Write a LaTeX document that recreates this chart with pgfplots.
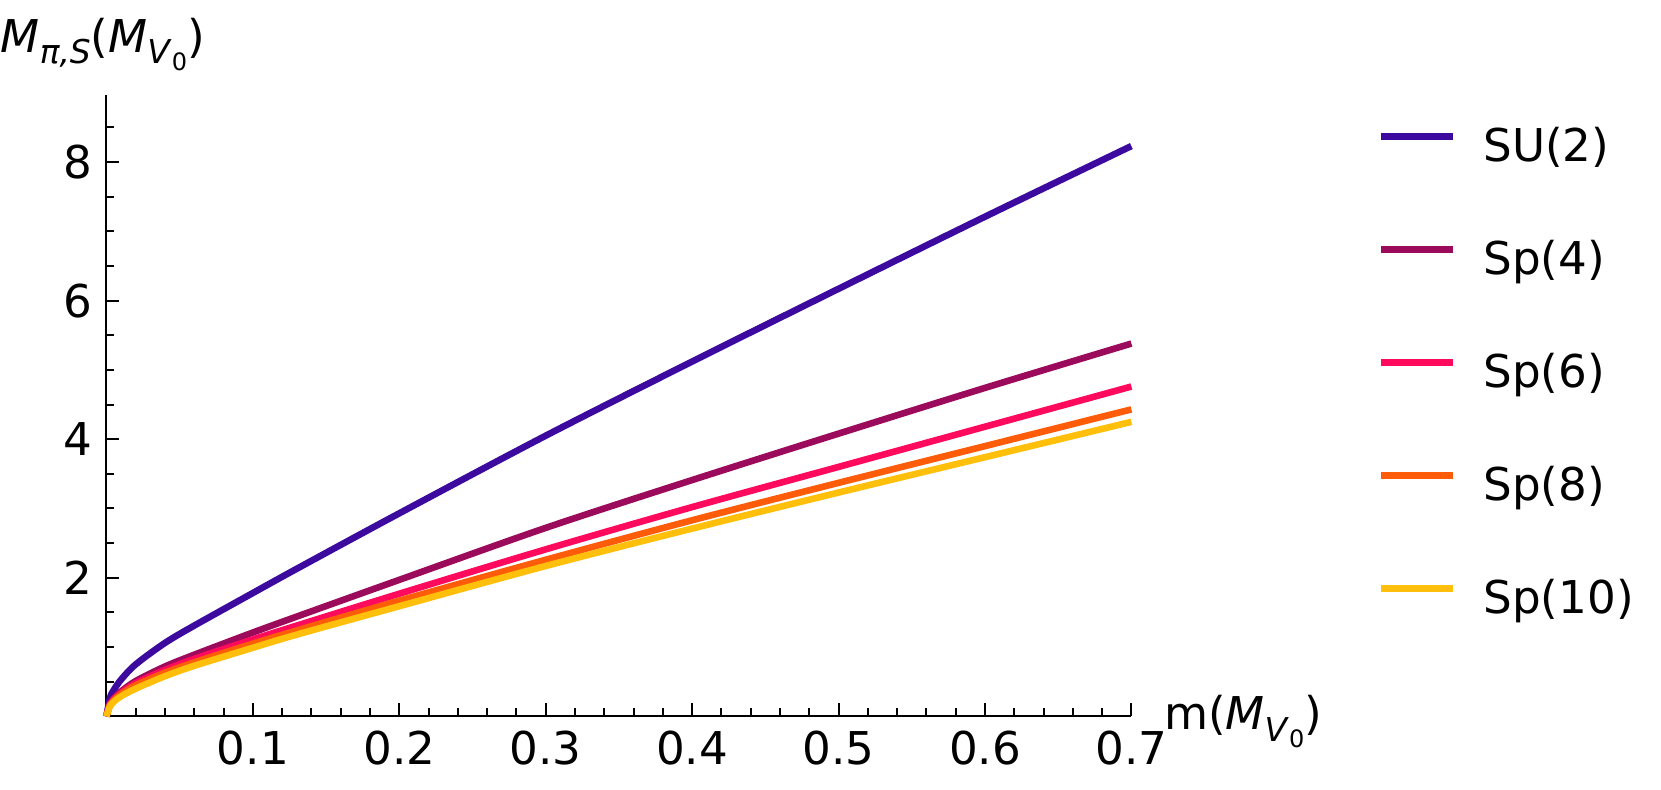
\documentclass[border=0pt]{standalone}
\usepackage{fontspec}
\setmainfont{DejaVu Sans}
\usepackage{pgfplots}
\pgfplotsset{compat=1.18}

\definecolor{cSU}{HTML}{3D0A9F}
\definecolor{cSpfour}{HTML}{9C0A5C}
\definecolor{cSpsix}{HTML}{FF0A5C}
\definecolor{cSpeight}{HTML}{FF5C0A}
\definecolor{cSpten}{HTML}{FFBF0A}

\newcommand{\sub}[1]{\raisebox{-0.45ex}{\fontsize{8.2}{9}\selectfont #1}}
\newcommand{\subsub}[1]{\raisebox{-0.35ex}{\fontsize{6}{7}\selectfont #1}}

\begin{document}
\begin{tikzpicture}
\begin{axis}[
    scale only axis,
    width=256.25pt, height=155.4pt,
    xmin=0, xmax=0.7, ymin=0, ymax=8.97,
    axis lines*=left,
    axis line style={line width=0.5pt},
    tick align=inside,
    major tick length=3.25pt,
    minor tick length=2pt,
    tick style={line width=0.5pt, black},
    xtick={0.1,0.2,0.3,0.4,0.5,0.6,0.7},
    xticklabels={0.1,0.2,0.3,0.4,0.5,0.6,0.7},
    minor xtick={0.02,0.04,0.06,0.08,0.12,0.14,0.16,0.18,0.22,0.24,0.26,0.28,
                 0.32,0.34,0.36,0.38,0.42,0.44,0.46,0.48,0.52,0.54,0.56,0.58,
                 0.62,0.64,0.66,0.68},
    ytick={2,4,6,8},
    minor ytick={0.5,1,1.5,2.5,3,3.5,4.5,5,5.5,6.5,7,7.5,8.5},
    /pgf/number format/assume math mode=true,
    tick label style={font=\fontsize{11.3}{13}\selectfont},
    clip=false,
    legend style={draw=none, fill=none, at={(1.2406,0.947)}, anchor=north west,
        inner sep=0pt, outer sep=0pt, row sep=16.95pt,
        font=\fontsize{11.3}{13}\selectfont,
        nodes={inner sep=0pt, text height=8.5pt, text depth=2.8pt},
        /tikz/every odd column/.append style={column sep=6.75pt}},
    legend cell align=left,
    legend image code/.code={\draw[#1, line width=1.65pt] (0pt,3.45pt) -- (18pt,3.45pt);},
    every axis plot/.append style={line width=1.65pt, smooth, mark=none},
]
% SU(2)
\addplot[cSU] coordinates {
    (0,0) (0.0025,0.27) (0.005,0.38) (0.01,0.53) (0.02,0.75) (0.04,1.06)
    (0.06,1.31) (0.1,1.78) (0.13,2.13) (0.2,2.93) (0.3,4.05) (0.4,5.12)
    (0.5,6.17) (0.6,7.21) (0.7,8.23)
};
\addlegendentry{SU(2)}
% Sp(4)
\addplot[cSpfour] coordinates {
    (0,0) (0.0025,0.19) (0.005,0.26) (0.01,0.36) (0.02,0.51) (0.04,0.72)
    (0.06,0.89) (0.1,1.21) (0.13,1.44) (0.2,1.97) (0.3,2.72) (0.4,3.41)
    (0.5,4.08) (0.6,4.74) (0.7,5.38)
};
\addlegendentry{Sp(4)}
% Sp(6)
\addplot[cSpsix] coordinates {
    (0,0) (0.0025,0.18) (0.005,0.25) (0.01,0.34) (0.02,0.48) (0.04,0.67)
    (0.06,0.83) (0.1,1.11) (0.13,1.31) (0.2,1.77) (0.3,2.41) (0.4,3.02)
    (0.5,3.60) (0.6,4.18) (0.7,4.76)
};
\addlegendentry{Sp(6)}
% Sp(8)
\addplot[cSpeight] coordinates {
    (0,0) (0.0025,0.17) (0.005,0.23) (0.01,0.32) (0.02,0.45) (0.04,0.63)
    (0.06,0.78) (0.1,1.05) (0.13,1.24) (0.2,1.67) (0.3,2.26) (0.4,2.83)
    (0.5,3.37) (0.6,3.90) (0.7,4.43)
};
\addlegendentry{Sp(8)}
% Sp(10)
\addplot[cSpten] coordinates {
    (0,0) (0.0025,0.15) (0.005,0.21) (0.01,0.29) (0.02,0.40) (0.04,0.58)
    (0.06,0.73) (0.1,0.99) (0.13,1.18) (0.2,1.59) (0.3,2.17) (0.4,2.71)
    (0.5,3.23) (0.6,3.74) (0.7,4.25)
};
\addlegendentry{Sp(10)}
\end{axis}
\node[anchor=base west, inner sep=0pt, font=\fontsize{11.3}{13}\selectfont]
    at (-26.6pt,165.9pt)
    {\textit{M}\sub{\textit{π,S}}(\textit{M}\sub{\textit{V}\subsub{0}})};
\node[anchor=base west, inner sep=0pt, font=\fontsize{11.3}{13}\selectfont]
    at (264.2pt,-3.4pt)
    {m(\textit{M}\sub{\textit{V}\subsub{0}})};
\pgfresetboundingbox
\useasboundingbox (-26.6pt,-18.4pt) rectangle (388.65pt,179.1pt);
\end{tikzpicture}
\end{document}
